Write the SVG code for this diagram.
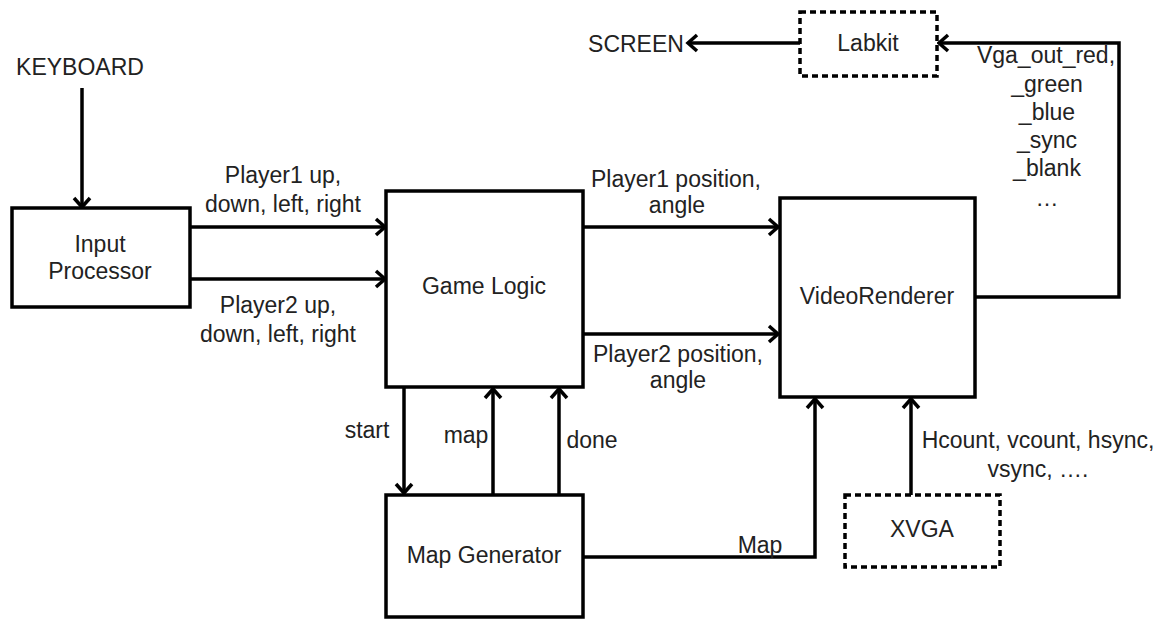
<svg xmlns="http://www.w3.org/2000/svg" width="1162" height="619" viewBox="0 0 1162 619">
<style>
text{font-family:"Liberation Sans",Arial,sans-serif;font-size:23px;fill:#222;text-anchor:middle}
.box{fill:#fff;stroke:#000;stroke-width:3.5}
.dash{fill:#fff;stroke:#000;stroke-width:3.5;stroke-dasharray:6 4}
.wire{fill:none;stroke:#000;stroke-width:3.5;marker-end:url(#arr)}
</style>
<defs>
<marker id="arr" markerUnits="userSpaceOnUse" markerWidth="14" markerHeight="20" viewBox="0 0 14 20" refX="12" refY="10" orient="auto" overflow="visible">
<path d="M3,2 L12,10 L3,18" fill="none" stroke="#000" stroke-width="3.5"/>
</marker>
</defs>
<rect width="1162" height="619" fill="#fff"/>
<g id="connectors">
<path class="wire" d="M82,88 V207"/>
<path class="wire" d="M190,227 H385"/>
<path class="wire" d="M190,279 H385"/>
<path class="wire" d="M583,227 H778"/>
<path class="wire" d="M583,334 H778"/>
<path class="wire" d="M404,387 V493"/>
<path class="wire" d="M493,495 V389"/>
<path class="wire" d="M559,495 V389"/>
<path class="wire" d="M583,557 H815 V399"/>
<path class="wire" d="M911,495 V399"/>
<path class="wire" d="M975,297 H1119 V43 H939"/>
<path class="wire" d="M800,43 H688"/>
</g>
<g id="labels">
<text x="80" y="75">KEYBOARD</text>
<text x="283" y="183">Player1 up,</text>
<text x="283" y="212">down, left, right</text>
<text x="278" y="313">Player2 up,</text>
<text x="278" y="342">down, left, right</text>
<text x="676" y="187">Player1 position,</text>
<text x="677" y="213">angle</text>
<text x="678" y="362">Player2 position,</text>
<text x="678" y="388">angle</text>
<text x="367" y="438">start</text>
<text x="466" y="443">map</text>
<text x="592" y="448">done</text>
<text x="760" y="553">Map</text>
<text x="1038" y="448">Hcount, vcount, hsync,</text>
<text x="1038" y="477">vsync, ….</text>
<text x="636" y="52">SCREEN</text>
<text x="1046" y="63">Vga_out_red,</text>
<text x="1047" y="92">_green</text>
<text x="1047" y="120">_blue</text>
<text x="1047" y="148">_sync</text>
<text x="1047" y="176">_blank</text>
<text x="1047" y="206">…</text>
</g>
<g id="input-processor">
<rect class="box" x="12" y="208" width="178" height="99"/>
<text x="100" y="252">Input</text>
<text x="100" y="279">Processor</text>
</g>
<g id="game-logic">
<rect class="box" x="386" y="191" width="197" height="196"/>
<text x="484" y="294">Game Logic</text>
</g>
<g id="map-generator">
<rect class="box" x="386" y="495" width="197" height="122"/>
<text x="484" y="563">Map Generator</text>
</g>
<g id="video-renderer">
<rect class="box" x="780" y="198" width="195" height="199"/>
<text x="877" y="304">VideoRenderer</text>
</g>
<g id="labkit">
<rect class="dash" x="800" y="12" width="137" height="64"/>
<text x="868" y="51">Labkit</text>
</g>
<g id="xvga">
<rect class="dash" x="845" y="495" width="155" height="72"/>
<text x="922" y="537">XVGA</text>
</g>
</svg>
